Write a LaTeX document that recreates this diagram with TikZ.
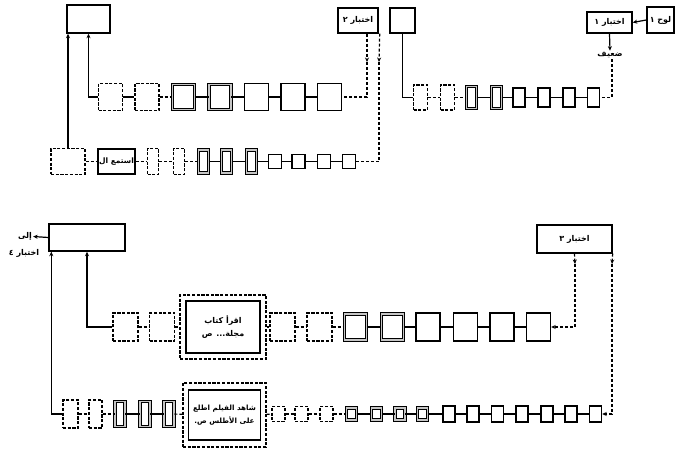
\documentclass[tikz,border=0pt]{standalone}
\usepackage{fontspec}
\usetikzlibrary{arrows.meta,calc}
\TeXXeTstate=1
\newfontfamily\arabicfont[Script=Arabic]{DejaVu Sans}
\newcommand{\artxt}[1]{\beginR #1\endR}
\tikzset{
  sbox/.style={draw, line width=1.4pt, inner sep=0pt, fill=white},
  dbox/.style={sbox, dash pattern=on 3.2pt off 1.5pt},
  wbox/.style={draw, line width=0.95pt, double=gray!45, double distance=1.7pt, inner sep=0pt},
  conn/.style={line width=1.2pt},
  dconn/.style={conn, dash pattern=on 3pt off 2pt},
  arr/.style={-{Stealth[length=4.5pt,width=4pt]}},
  lab/.style={font=\arabicfont\bfseries\fontsize{8}{9}\selectfont, inner sep=1pt},
  biglab/.style={font=\arabicfont\bfseries\fontsize{8}{13}\selectfont, align=center}
}
\begin{document}
\begin{tikzpicture}[x=1pt,y=-1pt]
\useasboundingbox (0,0) rectangle (683,454);

% ---------- upper left group ----------
\node[sbox, minimum width=43pt, minimum height=28pt] (T1) at (88.5,19) {};
\node[sbox, lab, minimum width=40pt, minimum height=25pt] (X2) at (358,20.5) {\artxt{اختبار ٢}};

\foreach \n/\x/\s in {A1/110.5/dbox, A2/147/dbox, A5/256.5/sbox, A6/293/sbox, A7/329.5/sbox}
  \node[\s, minimum width=24pt, minimum height=27pt] (\n) at (\x,97) {};
\foreach \n/\x in {A3/183.5, A4/220}
  \node[wbox, minimum width=22pt, minimum height=25pt] (\n) at (\x,97) {};

\node[dbox, minimum width=34pt, minimum height=26pt] (B1) at (68,161.5) {};
\node[sbox, lab, font=\arabicfont\bfseries\fontsize{7.5}{9}\selectfont, minimum width=37pt, minimum height=25pt] (B2) at (116.5,161.5) {\artxt{استمع ال}};
\foreach \n/\x in {B3/153, B4/179}
  \node[dbox, minimum width=11pt, minimum height=26pt] (\n) at (\x,161.5) {};
\foreach \n/\x in {B5/203.5, B6/226.5, B7/251.5}
  \node[wbox, minimum width=10pt, minimum height=23pt] (\n) at (\x,161.5) {};
\foreach \n/\x in {B8/275, B9/298.5, B10/324, B11/349}
  \node[sbox, minimum width=13pt, minimum height=14pt] (\n) at (\x,161.5) {};

\foreach \a/\b/\s in {A1/A2/conn, A2/A3/dconn, A3/A4/conn, A4/A5/conn, A5/A6/conn, A6/A7/conn,
  B1/B2/dconn, B2/B3/dconn, B3/B4/dconn, B4/B5/dconn, B5/B6/conn, B6/B7/conn, B7/B8/conn,
  B8/B9/conn, B9/B10/conn, B10/B11/conn}
  \draw[\s] (\a) -- (\b);

\draw[conn, arr] (A1.west) -| (T1.south);
\draw[conn, arr] (B1.north) -- (B1.north |- T1.south);

\coordinate (p1) at ($(X2.south)+(9,0)$);
\coordinate (p1m) at (367,62);
\coordinate (p2) at ($(X2.south east)+(1,0)$);
\coordinate (p2m) at (379,62);
\draw[dconn, arr] (p1) -- (p1m);
\draw[dconn] (p1m) |- (A7.east);
\draw[dconn, arr] (p2) -- (p2m);
\draw[dconn] (p2m) |- (B11.east);

% ---------- upper right group ----------
\node[sbox, minimum width=25pt, minimum height=25pt] (R0) at (402.5,20.5) {};
\node[sbox, lab, minimum width=45pt, minimum height=21pt] (X1) at (609.5,22.5) {\artxt{اختبار ١}};
\node[sbox, lab, minimum width=27pt, minimum height=26pt] (L1) at (660.5,20) {\artxt{لوح ١}};
\node[lab] (W) at (610,55) {\artxt{ضعيف}};

\foreach \n/\x in {C1/420.5, C2/447.5}
  \node[dbox, minimum width=14pt, minimum height=25pt] (\n) at (\x,97.5) {};
\foreach \n/\x in {C3/471.5, C4/496.5}
  \node[wbox, minimum width=10pt, minimum height=22pt] (\n) at (\x,97.5) {};
\foreach \n/\x in {C5/519, C6/544, C7/569, C8/593.5}
  \node[sbox, minimum width=12pt, minimum height=19pt] (\n) at (\x,97.5) {};
\foreach \a/\b/\s in {C1/C2/dconn, C2/C3/dconn, C3/C4/conn, C4/C5/conn, C5/C6/conn, C6/C7/conn, C7/C8/conn}
  \draw[\s] (\a) -- (\b);

\draw[conn] (R0.south) |- (C1.west);
\draw[conn, arr] (L1.west) -- (X1.east);
\draw[conn, arr] (X1.south) -- (W.north);
\draw[dconn] ($(W.south)+(2,0)$) |- (C8.east);

% ---------- lower group ----------
\node[sbox, minimum width=76pt, minimum height=27pt] (T2) at (87,237.5) {};
\node[lab] (to4a) at (25,236.5) {\artxt{إلى}};
\node[lab] (to4b) at (24,253) {\artxt{اختبار ٤}};
\draw[conn, arr] (T2.west) -- (to4a.east);

\node[sbox, lab, minimum width=75pt, minimum height=28pt] (X3) at (574.5,239) {\artxt{اختبار ٣}};

% row D
\foreach \n/\x in {D1/125.5, D2/162, D4/282.5, D5/319.5}
  \node[dbox, minimum width=25pt, minimum height=28pt] (\n) at (\x,327) {};
\foreach \n/\x in {D6/355.5, D7/392.5}
  \node[wbox, minimum width=22pt, minimum height=26pt] (\n) at (\x,327) {};
\foreach \n/\x in {D8/428, D9/465.5, D10/502, D11/538.5}
  \node[sbox, minimum width=24pt, minimum height=28pt] (\n) at (\x,327) {};
\node[dbox, minimum width=86pt, minimum height=64pt] (D3) at (223,327) {};
\node[sbox, biglab, line width=1.6pt, minimum width=74pt, minimum height=52pt] (D3i) at (D3.center)
  {\artxt{اقرأ كتاب}\\\artxt{مجلة... ص}};
\foreach \a/\b/\s in {D1/D2/dconn, D2/D3/dconn, D3/D4/dconn, D4/D5/dconn, D5/D6/dconn, D6/D7/conn,
  D7/D8/conn, D8/D9/conn, D9/D10/conn, D10/D11/conn}
  \draw[\s] (\a) -- (\b);

% row E
\node[dbox, minimum width=15pt, minimum height=28pt] (E1) at (70.5,414) {};
\node[dbox, minimum width=13pt, minimum height=28pt] (E2) at (95.5,414) {};
\foreach \n/\x in {E3/120, E4/145, E5/169}
  \node[wbox, minimum width=10pt, minimum height=25pt] (\n) at (\x,414) {};
\node[dbox, minimum width=83pt, minimum height=64pt] (E6) at (224.5,415) {};
\node[sbox, biglab, font=\arabicfont\bfseries\fontsize{7.2}{13}\selectfont, line width=1.6pt, minimum width=72pt, minimum height=50pt] (E6i) at (E6.center)
  {\artxt{شاهد الفيلم اطلع}\\\artxt{على الأطلس ص.}};
\foreach \n/\x in {E7/278.5, E8/301.5, E9/326.5}
  \node[dbox, minimum width=13pt, minimum height=15pt] (\n) at (\x,414) {};
\foreach \n/\x in {E10/351.5, E11/376.5, E12/400, E13/422.5}
  \node[wbox, minimum width=10pt, minimum height=12pt] (\n) at (\x,414) {};
\foreach \n/\x in {E14/449, E15/473, E16/497.5, E17/522, E18/547, E19/571, E20/595.5}
  \node[sbox, minimum width=12pt, minimum height=16pt] (\n) at (\x,414) {};
\foreach \a/\b/\s in {E1/E2/dconn, E2/E3/dconn, E3/E4/conn, E4/E5/conn, E5/E6/dconn, E6/E7/dconn,
  E7/E8/dconn, E8/E9/dconn, E9/E10/dconn, E10/E11/conn, E11/E12/conn, E12/E13/conn, E13/E14/conn,
  E14/E15/conn, E15/E16/conn, E16/E17/conn, E17/E18/conn, E18/E19/conn, E19/E20/conn}
  \draw[\s] (\a) -- (\b);

\draw[conn, arr] (E1.west) -| ($(T2.south west)+(3,0)$);
\draw[conn, arr] (D1.west) -| (T2.south);

\coordinate (q1m) at (575,264);
\coordinate (q2) at ($(X3.south east)+(0,0)$);
\coordinate (q2m) at (612,264);
\draw[dconn, arr] (X3.south) -- (q1m);
\draw[dconn, arr] (q1m) |- (D11.east);
\draw[dconn, arr] (q2) -- (q2m);
\draw[dconn, arr] (q2m) |- (E20.east);
\end{tikzpicture}
\end{document}
